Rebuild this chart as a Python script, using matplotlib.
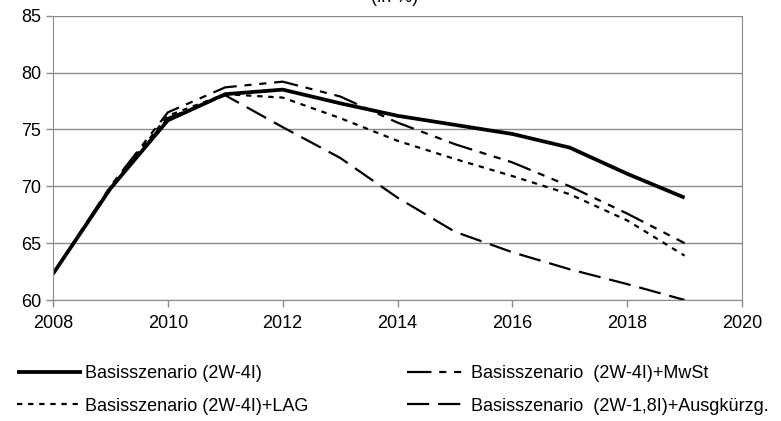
import numpy as np
import matplotlib.pyplot as plt

plt.rcParams['font.family'] = ['Liberation Sans', 'DejaVu Sans']

years = np.arange(2008, 2020)

basis = [62.3, 69.8, 75.8, 78.1, 78.5, 77.3, 76.2, 75.4, 74.6, 73.4, 71.1, 69.0]
mwst = [62.3, 70.0, 76.5, 78.7, 79.2, 77.9, 75.6, 73.7, 72.1, 70.0, 67.6, 65.0]
lag = [62.3, 69.9, 76.2, 78.1, 77.8, 76.0, 74.0, 72.4, 70.9, 69.3, 67.0, 63.9]
ausg = [62.3, 69.8, 76.0, 78.0, 75.2, 72.5, 69.0, 66.0, 64.2, 62.7, 61.4, 60.0]

labels = ['Basisszenario (2W-4I)',
          'Basisszenario  (2W-4I)+MwSt',
          'Basisszenario (2W-4I)+LAG',
          'Basisszenario  (2W-1,8I)+Ausgkürzg.']

W, H = 781, 421
fig = plt.figure(figsize=(W / 100, H / 100), dpi=100)
ax = fig.add_axes([53 / W, 1 - 300 / H, (742 - 53) / W, (300 - 15.7) / H])

grey = '#8c8c8c'
l_basis, = ax.plot(years, basis, color='black', lw=2.7, solid_capstyle='butt')
l_mwst, = ax.plot(years, mwst, color='black', lw=1.6, dashes=[11, 3.5, 3.2, 3.5, 3.2, 3.5])
l_lag, = ax.plot(years, lag, color='black', lw=1.6, dashes=[2.4, 2.6])
l_ausg, = ax.plot(years, ausg, color='black', lw=1.6, dashes=[10, 4])

ax.set_xlim(2008, 2020)
ax.set_ylim(60, 85)
ax.set_xticks(np.arange(2008, 2021, 2))
ax.set_yticks(np.arange(60, 86, 5))
ax.grid(axis='y', color=grey, lw=1)
ax.set_axisbelow(True)
for s in ['left', 'right', 'bottom']:
    ax.spines[s].set_color(grey)
ax.spines['top'].set_visible(False)
ax.tick_params(colors=grey, labelcolor='black', labelsize=13, length=5, width=1)
ax.tick_params(axis='x', pad=6)

# title sits mostly above the top edge, as in the original
fig.text(395 / W, 1 - 1.5 / H, '(in %)', ha='center', va='baseline', fontsize=13)

kw = dict(frameon=False, fontsize=13, handlelength=3.6, handletextpad=0.15,
          labelspacing=0.85, borderpad=0, borderaxespad=0, loc='center left')
leg1 = fig.legend([l_basis, l_lag], [labels[0], labels[2]],
                  bbox_to_anchor=(17 / W, 1 - 390 / H), **kw)
kw['handlelength'] = 3.4
leg2 = fig.legend([l_mwst, l_ausg], [labels[1], labels[3]],
                  bbox_to_anchor=(407 / W, 1 - 390 / H), **kw)

fig.savefig('out.png', dpi=100)
